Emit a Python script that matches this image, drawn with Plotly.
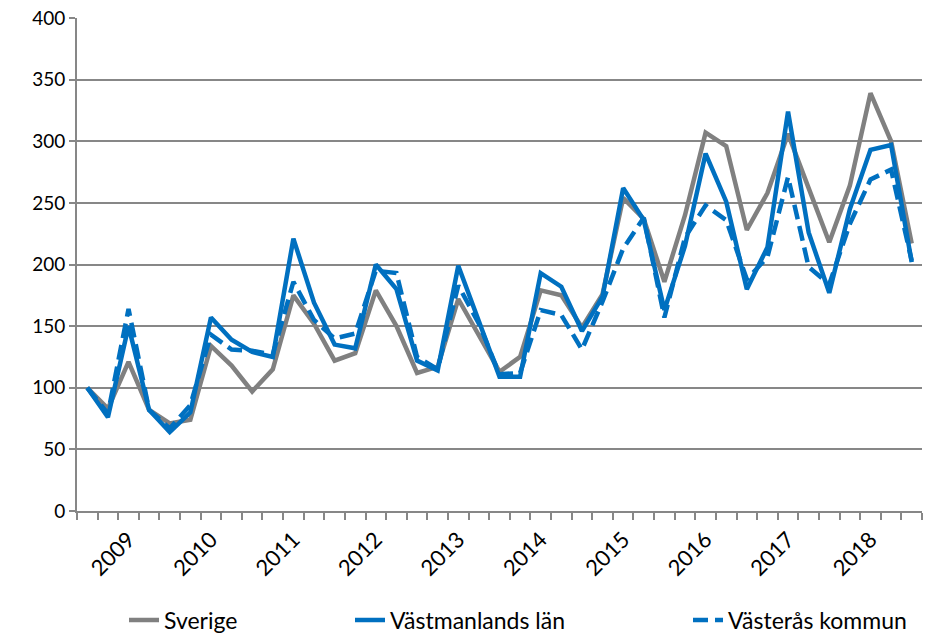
import plotly.graph_objects as go

# Quarterly index series (41 quarters), index 100 at first quarter
quarter_index = list(range(41))
year_labels = ["2009", "2010", "2011", "2012", "2013", "2014", "2015", "2016", "2017", "2018"]
year_label_quarter = [2, 6, 10, 14, 18, 22, 26, 30, 34, 38]

sverige = [100, 83, 121, 82, 71, 74, 134, 118, 97, 115,
           175, 152, 122, 128, 179, 150, 112, 117, 172, 142,
           113, 125, 179, 175, 149, 176, 254, 237, 186, 240,
           307, 296, 228, 258, 306, 262, 218, 264, 339, 300, 217]
vastmanland = [100, 76, 150, 82, 64, 80, 157, 139, 129, 125,
               221, 169, 135, 132, 200, 180, 122, 114, 199, 155,
               109, 109, 193, 182, 146, 174, 262, 236, 163, 215,
               290, 251, 180, 214, 324, 226, 177, 245, 293, 297, 202]
vasteras = [100, 79, 164, 82, 67, 86, 143, 131, 130, 127,
            186, 155, 140, 144, 195, 193, 125, 115, 183, 152,
            111, 112, 163, 159, 131, 170, 213, 238, 157, 222,
            248, 236, 188, 206, 271, 198, 184, 233, 269, 277, 203]

GRAY = "#808080"
BLUE = "#0070C0"
GRID = "#878787"
FONT = "Lato, Liberation Sans, sans-serif"

W, H = 927, 633

fig = go.Figure()
fig.add_trace(go.Scatter(x=quarter_index, y=sverige, mode="lines", name="Sverige",
                         line=dict(color=GRAY, width=4.5), legend="legend"))
fig.add_trace(go.Scatter(x=quarter_index, y=vastmanland, mode="lines", name="Västmanlands län",
                         line=dict(color=BLUE, width=4.5), legend="legend2"))
fig.add_trace(go.Scatter(x=quarter_index, y=vasteras, mode="lines", name="Västerås kommun",
                         line=dict(color=BLUE, width=4.5, dash="15px,7px"), legend="legend3"))

legend_common = dict(orientation="h", xref="container", yref="container",
                     yanchor="middle", xanchor="left",
                     font=dict(family=FONT, size=23, color="#000000"),
                     bgcolor="rgba(0,0,0,0)")


def lx(text_x):
    return (text_x - 42) / W


ly = 1 - 620 / H

fig.update_layout(
    width=W, height=H,
    margin=dict(l=77, r=5, t=18, b=122),
    paper_bgcolor="white", plot_bgcolor="white",
    showlegend=True,
    legend=dict(x=lx(166), y=ly, **legend_common),
    legend2=dict(x=lx(392), y=ly, **legend_common),
    legend3=dict(x=lx(730), y=ly, **legend_common),
    xaxis=dict(
        range=[-0.5, 40.5], automargin=False,
        tickmode="array", tickvals=year_label_quarter, ticktext=year_labels,
        tickangle=-45, ticks="", showgrid=False, zeroline=False,
        showline=True, linecolor=GRID, linewidth=2,
        ticklabelstandoff=5,
        tickfont=dict(family=FONT, size=22, color="#000000"),
        minor=dict(tickmode="linear", tick0=-0.5, dtick=1, ticks="outside",
                   ticklen=7, tickwidth=2, tickcolor=GRID, showgrid=False),
    ),
    yaxis=dict(
        range=[0, 400], dtick=50, tick0=0, automargin=False,
        showgrid=True, gridcolor=GRID, gridwidth=2,
        zeroline=False, showline=True, linecolor=GRID, linewidth=2,
        ticks="outside", ticklen=6, tickwidth=2, tickcolor=GRID,
        ticklabeloverflow="allow",
        tickfont=dict(family=FONT, size=19, color="#000000"),
    ),
)

# remove the default 8px page margin so the 927x633 figure fills the window exactly
fig.write_html("out.html", config={"displayModeBar": False},
               post_script="document.body.style.margin='0px';")
